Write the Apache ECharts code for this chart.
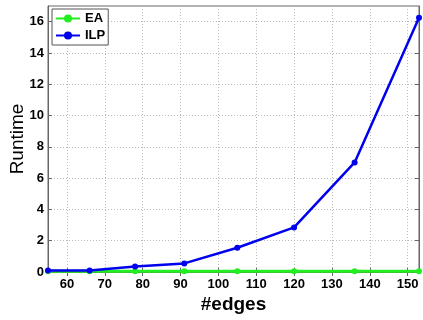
<!DOCTYPE html>
<html><head><meta charset="utf-8">
<script src="https://cdn.jsdelivr.net/npm/echarts@6/dist/echarts.min.js"></script>
<style>html,body{margin:0;padding:0;background:#fff}#c{width:423px;height:320px}</style>
</head><body><div id="c"></div>
<script>
const edges = [55, 66, 78, 91, 105, 120, 136, 153];
const eaRuntime = [0.05, 0.05, 0.05, 0.05, 0.05, 0.05, 0.05, 0.05];
const ilpRuntime = [0.1, 0.1, 0.35, 0.55, 1.55, 2.85, 7.0, 16.25];
const xTicks = [60, 70, 80, 90, 100, 110, 120, 130, 140, 150];
const yTicks = [0, 2, 4, 6, 8, 10, 12, 14, 16];

const chart = echarts.init(document.getElementById('c'));
const lbl = {fontFamily:'Liberation Sans, Arial', fontWeight:'bold', fontSize:13, color:'#000'};
const gridLine = {show:true, lineStyle:{color:'#bbb', type:[1,2], width:1}};
chart.setOption({
  animation:false,
  backgroundColor:'#fff',
  grid:{left:48, right:4, top:6, bottom:48, outerBoundsMode:'none', containLabel:false,
        show:true, borderColor:'#666', borderWidth:1, backgroundColor:'#fff'},
  legend:{
    orient:'vertical', left:52, top:9, itemWidth:24, itemHeight:10, itemGap:4,
    padding:[3,3,3,3], borderColor:'#555', borderWidth:1, backgroundColor:'#fff',
    textStyle:Object.assign({}, lbl, {fontSize:13}),
    data:['EA','ILP']
  },
  xAxis:[{
    type:'value', min:55, max:153, interval:10,
    axisLine:{show:true, lineStyle:{color:'#666'}},
    axisTick:{show:true, inside:true, length:4, lineStyle:{color:'#666'}, customValues:xTicks},
    axisLabel:Object.assign({}, lbl, {margin:6, customValues:xTicks}),
    splitLine:gridLine,
    name:'#edges', nameLocation:'middle', nameGap:23, nameMoveOverlap:false,
    nameTextStyle:{fontFamily:'Liberation Sans, Arial', fontWeight:'bold', fontSize:19, color:'#000', verticalAlign:'top'}
  },{
    type:'value', min:55, max:153, position:'top',
    axisLine:{show:true, lineStyle:{color:'#666'}},
    axisTick:{show:true, inside:true, length:4, lineStyle:{color:'#666'}, customValues:xTicks},
    axisLabel:{show:false, customValues:xTicks}, splitLine:{show:false}
  }],
  yAxis:[{
    type:'value', min:0, max:17,
    axisLine:{show:true, lineStyle:{color:'#666'}},
    axisTick:{show:true, inside:true, length:4, lineStyle:{color:'#666'}, customValues:yTicks},
    axisLabel:Object.assign({}, lbl, {margin:4, customValues:yTicks}),
    splitLine:gridLine,
    name:'Runtime', nameLocation:'middle', nameGap:21, nameMoveOverlap:false,
    nameTextStyle:{fontFamily:'Liberation Sans, Arial', fontSize:19, color:'#000'}
  },{
    type:'value', min:0, max:17, position:'right',
    axisLine:{show:true, lineStyle:{color:'#666'}},
    axisTick:{show:true, inside:true, length:4, lineStyle:{color:'#666'}, customValues:yTicks},
    axisLabel:{show:false, customValues:yTicks}, splitLine:{show:false}
  }],
  series:[
    {name:'EA', type:'line', data:edges.map((e,i)=>[e,eaRuntime[i]]), color:'#22ee22',
     lineStyle:{width:3, color:'#22ee22'}, symbol:'circle', symbolSize:6, itemStyle:{color:'#22ee22'}, z:3},
    {name:'ILP', type:'line', data:edges.map((e,i)=>[e,ilpRuntime[i]]), color:'#0000ee',
     lineStyle:{width:2.5, color:'#0000ee'}, symbol:'circle', symbolSize:6, itemStyle:{color:'#0000ee'}, z:4}
  ]
});
</script></body></html>
